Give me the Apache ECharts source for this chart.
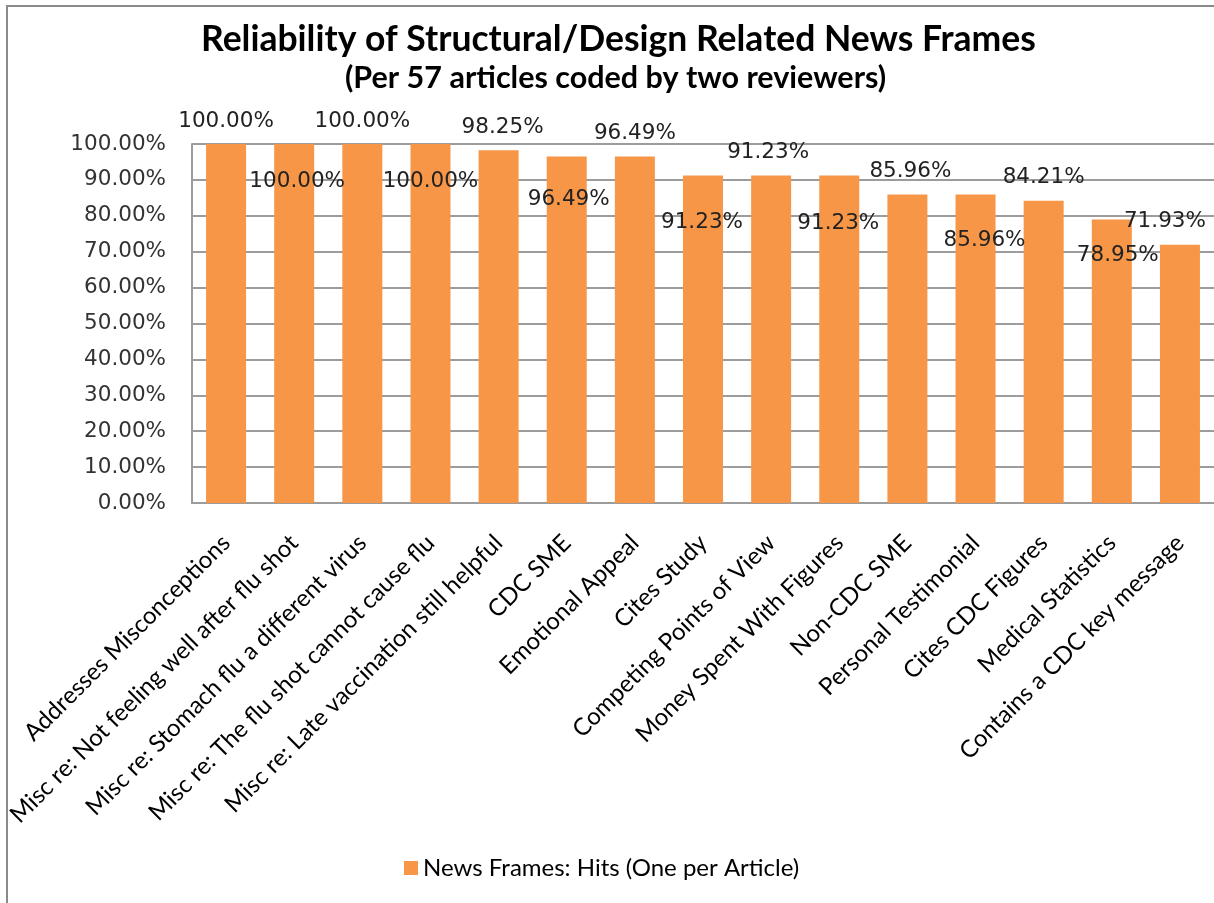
<!DOCTYPE html>
<html>
<head>
<meta charset="utf-8">
<title>Reliability of Structural/Design Related News Frames</title>
<script src="https://cdn.jsdelivr.net/npm/echarts@6/dist/echarts.min.js"></script>
<style>
  html, body { margin: 0; padding: 0; background: #fff; }
  #main { width: 1214px; height: 903px; }
</style>
</head>
<body>
<div id="main"></div>
<script>
// categories along the x axis
var frames = [
  "Addresses Misconceptions",
  "Misc re: Not feeling well after flu shot",
  "Misc re: Stomach flu a different virus",
  "Misc re: The flu shot cannot cause flu",
  "Misc re: Late vaccination still helpful",
  "CDC SME",
  "Emotional Appeal",
  "Cites Study",
  "Competing Points of View",
  "Money Spent With Figures",
  "Non-CDC SME",
  "Personal Testimonial",
  "Cites CDC Figures",
  "Medical Statistics",
  "Contains a CDC key message"
];
// reliability in percent
var hits = [100, 100, 100, 100, 98.25, 96.49, 96.49, 91.23, 91.23, 91.23, 85.96, 85.96, 84.21, 78.95, 71.93];
var yTicks = [0, 10, 20, 30, 40, 50, 60, 70, 80, 90, 100];
var seriesName = "News Frames: Hits (One per Article)";

// label nudges (style only): Excel staggered the data labels
var labelNudge = [
  [0, 0], [3, 60], [0, 0], [0, 60], [4, 0], [2, 66], [0, 0], [-1, 70],
  [-3, 0], [-1, 71], [3, 0], [9, 69], [0, 0], [6, 59], [-15, 0]
];

var orange = "#F79646";
var grey = "#9c9c9c";

var chart = echarts.init(document.getElementById("main"));

var barData = hits.map(function (v, i) {
  return {
    value: v,
    label: { offset: labelNudge[i] }
  };
});

chart.setOption({
  animation: false,
  title: [
    {
      text: "Reliability of Structural/Design Related News Frames",
      left: 201,
      top: 22,
      padding: 0,
      textStyle: { fontFamily: "Lato", fontWeight: "bold", fontSize: 35.5, color: "#000" }
    },
    {
      text: "(Per 57 articles coded by two reviewers)",
      left: 345,
      top: 63,
      padding: 0,
      textStyle: { fontFamily: "Lato", fontWeight: "bold", fontSize: 30.5, color: "#000" }
    }
  ],
  graphic: [
    {
      type: "rect",
      shape: { x: 7, y: 6, width: 1300, height: 1000 },
      style: { fill: "none", stroke: "#8a8a8a", lineWidth: 2 },
      silent: true
    }
  ],
  legend: {
    left: 399,
    top: 851,
    itemWidth: 14,
    itemHeight: 14,
    itemGap: 10,
    icon: "rect",
    textStyle: { fontFamily: "Lato", fontSize: 24, color: "#000" },
    data: [seriesName]
  },
  grid: {
    left: 192,
    top: 144,
    width: 1025,
    height: 359
  },
  xAxis: {
    type: "category",
    data: frames,
    axisLine: { show: true, lineStyle: { color: grey, width: 2 } },
    axisTick: { show: false },
    axisLabel: {
      rotate: 45,
      interval: 0,
      margin: 36,
      verticalAlign: "middle",
      fontFamily: "Lato",
      fontSize: 24,
      color: "#000"
    }
  },
  yAxis: {
    type: "value",
    min: 0,
    max: 100,
    interval: 10,
    axisLine: { show: true, lineStyle: { color: grey, width: 2 } },
    axisTick: { show: false },
    splitLine: { lineStyle: { color: grey, width: 2 } },
    axisLabel: {
      margin: 26,
      fontFamily: "DejaVu Sans",
      fontSize: 21.5,
      color: "#333",
      formatter: function (v) { return v.toFixed(2) + "%"; }
    }
  },
  series: [
    {
      name: seriesName,
      type: "bar",
      data: barData,
      barWidth: 40,
      itemStyle: { color: orange },
      label: {
        show: true,
        position: "top",
        distance: 12,
        fontFamily: "DejaVu Sans",
        fontSize: 21.5,
        color: "#222",
        formatter: function (p) { return p.value.toFixed(2) + "%"; }
      }
    }
  ]
});
</script>
</body>
</html>
